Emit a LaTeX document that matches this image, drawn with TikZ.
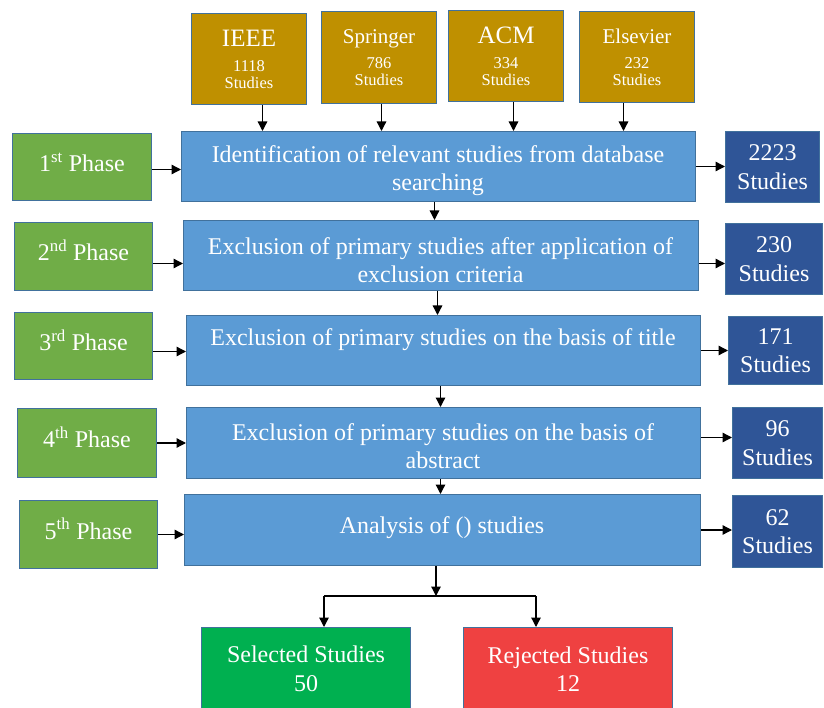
\documentclass[tikz,border=0pt]{standalone}
\usepackage{fontspec}
\setmainfont{Liberation Serif}
\usetikzlibrary{arrows.meta}
\definecolor{phasegreen}{HTML}{70AD47}
\definecolor{procblue}{HTML}{5B9BD5}
\definecolor{countblue}{HTML}{2F5597}
\definecolor{srcgold}{HTML}{BF9000}
\definecolor{selgreen}{HTML}{00B050}
\definecolor{rejred}{HTML}{EF4141}
\definecolor{edgecol}{HTML}{41719C}
\newcommand\fsmain{\fontsize{24pt}{28.5pt}\selectfont}
\newcommand\fssmall{\fontsize{16.5pt}{17pt}\selectfont}
\newcommand\srctext[3]{{\fontsize{#1}{#1}\selectfont #2}\\[8pt]#3\\Studies}
\begin{document}
\begin{tikzpicture}[x=1pt,y=-1pt,
  box/.style={draw=edgecol, line width=1pt, anchor=north west, inner sep=0pt, text=white, align=center},
  srcbox/.style={box, fill=srcgold, font=\fssmall},
  phasebox/.style={box, fill=phasegreen, font=\fontsize{24pt}{28pt}\selectfont, text height=17pt, text depth=8pt},
  procbox/.style={box, fill=procblue},
  countbox/.style={box, fill=countblue, font=\fsmain},
  resbox/.style={box, font=\fsmain},
  ptext/.style={text=white, align=center, inner sep=0pt, font=\fsmain},
  arr/.style={-{Triangle[length=9.5pt,width=9.5pt]}, line width=1.3pt, black},
  line/.style={line width=1.3pt, black}
]
\useasboundingbox[fill=white] (0,0) rectangle (824,708);

% sources
\node[srcbox, minimum width=115pt, minimum height=91pt] (ieee) at (191,13) {\srctext{25pt}{IEEE}{1118}};
\node[srcbox, minimum width=115pt, minimum height=92pt] (spr) at (321,11) {\srctext{21pt}{Springer}{786}};
\node[srcbox, minimum width=115pt, minimum height=91pt] (acm) at (448,10) {\srctext{25pt}{ACM}{334}};
\node[srcbox, minimum width=115pt, minimum height=91pt] (els) at (579,11) {\srctext{21pt}{Elsevier}{232}};

% phases
\node[phasebox, minimum width=139pt, minimum height=67pt] (p1) at (12,133) {1\textsuperscript{st} Phase};
\node[phasebox, minimum width=138pt, minimum height=68pt] (p2) at (14,222) {2\textsuperscript{nd} Phase};
\node[phasebox, minimum width=138pt, minimum height=67pt] (p3) at (14,312) {3\textsuperscript{rd} Phase};
\node[phasebox, minimum width=139pt, minimum height=69pt] (p4) at (17,408) {4\textsuperscript{th} Phase};
\node[phasebox, minimum width=138pt, minimum height=68pt] (p5) at (19,500) {5\textsuperscript{th} Phase};

% process boxes
\node[procbox, minimum width=514pt, minimum height=70pt] (b1) at (181,131) {};
\node[procbox, minimum width=515pt, minimum height=70pt] (b2) at (183,220) {};
\node[procbox, minimum width=514pt, minimum height=70pt] (b3) at (186,315) {};
\node[procbox, minimum width=514pt, minimum height=71pt] (b4) at (186,407) {};
\node[procbox, minimum width=516pt, minimum height=71pt] (b5) at (184,494) {};

\node[ptext] (t1) at (438,170.5) {Identification of relevant studies from database\\searching};
\node[ptext] (t2) at (440.5,260) {Exclusion of primary studies after application of\\exclusion criteria};
\node[ptext, anchor=base] (t3) at (443,345) {Exclusion of primary studies on the basis of title};
\node[ptext] (t4) at (443,446) {Exclusion of primary studies on the basis of\\abstract};
\node[ptext, anchor=base] (t5) at (442,533) {Analysis of () studies};

% counts
\node[countbox, minimum width=94pt, minimum height=71pt] (c1) at (725,131) {2223\\Studies};
\node[countbox, minimum width=97pt, minimum height=71pt] (c2) at (725,223) {230\\Studies};
\node[countbox, minimum width=94pt, minimum height=68pt] (c3) at (728,316) {171\\Studies};
\node[countbox, minimum width=90pt, minimum height=71pt] (c4) at (732,407) {96\\Studies};
\node[countbox, minimum width=90pt, minimum height=72pt] (c5) at (732,495) {62\\Studies};

% results
\node[resbox, fill=selgreen, minimum width=209pt, minimum height=83pt] (sel) at (201,627) {Selected Studies\\50};
\node[resbox, fill=rejred, minimum width=209pt, minimum height=83pt] (rej) at (463,627) {Rejected Studies\\12};

% source arrows
\draw[arr] ([xshift=13.5pt]ieee.south) -- ([xshift=13.5pt]ieee.south |- b1.north);
\draw[arr] ([xshift=2.5pt]spr.south) -- ([xshift=2.5pt]spr.south |- b1.north);
\draw[arr] ([xshift=7.5pt]acm.south) -- ([xshift=7.5pt]acm.south |- b1.north);
\draw[arr] ([xshift=-13.5pt]els.south) -- ([xshift=-13.5pt]els.south |- b1.north);

% phase arrows
\draw[arr] ([yshift=-2.5pt]p1.east) -- ([yshift=-2.5pt]p1.east -| b1.west);
\draw[arr] ([yshift=-7pt]p2.east) -- ([yshift=-7pt]p2.east -| b2.west);
\draw[arr] ([yshift=-5.5pt]p3.east) -- ([yshift=-5.5pt]p3.east -| b3.west);
\draw[arr] (p4.east) -- (p4.east -| b4.west);
\draw[arr] (p5.east) -- (p5.east -| b5.west);

% count arrows
\draw[arr] (b1.east) -- (b1.east -| c1.west);
\draw[arr] ([yshift=-8pt]b2.east) -- ([yshift=-8pt]b2.east -| c2.west);
\draw[arr] (b3.east) -- (b3.east -| c3.west);
\draw[arr] ([yshift=5.5pt]b4.east) -- ([yshift=5.5pt]b4.east -| c4.west);
\draw[arr] (b5.east) -- (b5.east -| c5.west);

% vertical flow
\draw[arr] ([xshift=-4pt]b1.south) -- ([xshift=-4pt]b1.south |- b2.north);
\draw[arr] ([xshift=-3.5pt]b2.south) -- ([xshift=-3.5pt]b2.south |- b3.north);
\draw[arr] ([xshift=-3pt]b3.south) -- ([xshift=-3pt]b3.south |- b4.north);
\draw[arr] ([xshift=-3pt]b4.south) -- ([xshift=-3pt]b4.south |- b5.north);

% fork
\coordinate (fork) at (436,596);
\coordinate (forkL) at (324,596);
\coordinate (forkR) at (536,596);
\draw[arr] (b5.south -| fork) -- (fork);
\draw[line] (forkL) -- (forkR);
\draw[arr] (forkL) -- (forkL |- sel.north);
\draw[arr] (forkR) -- (forkR |- rej.north);
\end{tikzpicture}
\end{document}
